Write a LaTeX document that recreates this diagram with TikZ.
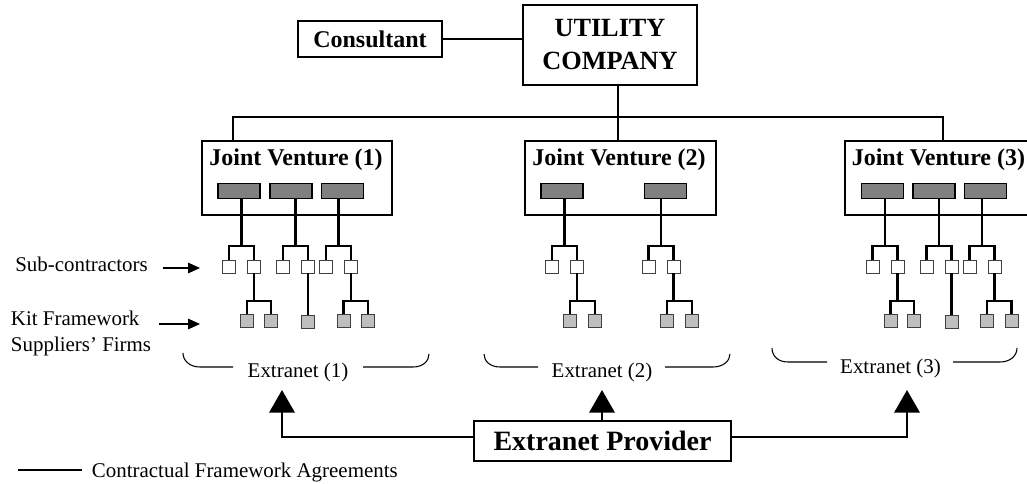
\documentclass[tikz,border=0pt]{standalone}
\usepackage{fontspec}
\setmainfont{Liberation Serif}
\usetikzlibrary{arrows.meta,positioning}

\begin{document}
\begin{tikzpicture}[x=0.75pt, y=-0.75pt,
	tie/.style={line width=2pt},
	feed/.style={line width=2pt, -{Triangle[length=17pt,width=19pt]}},
	pointer/.style={line width=0.8pt, -{Triangle[length=9pt,width=8pt]}},
	bracket/.style={line width=0.8pt}]
		\tikzset{boxed/.style={draw, line width=1.1pt, inner sep=0pt, align=center, font=\bfseries\fontsize{18}{22}\selectfont},
			jv/.style={draw, line width=2pt, minimum height=55.5pt},
			title/.style={inner sep=0pt, font=\bfseries\fontsize{18}{22}\selectfont},
			mgr/.style={draw, line width=1pt, fill=gray, inner sep=0pt, minimum width=31.5pt, minimum height=11.25pt},
			sub/.style={draw=black!75, line width=0.7pt, fill=white, inner sep=0pt, minimum size=9.75pt},
			kit/.style={sub, fill=black!25},
			lbl/.style={inner sep=0pt, font=\fontsize{15.7}{19.5}\selectfont}}
		\useasboundingbox (0,0) rectangle (1027,484);

		% top of the tree
		\node[boxed, minimum width=108pt, minimum height=27pt] (cons) at (370,39) {Consultant};
		\node[boxed, line width=1.4pt, minimum width=130.5pt, minimum height=60pt, font=\bfseries\fontsize{19.7}{24.75}\selectfont] (util) at (610,45) {UTILITY\\COMPANY};

		\node[jv, minimum width=142.5pt] (jv1) at (297,178) {};
		\node[jv, minimum width=143.25pt] (jv2) at (620.5,178) {};
		\node[jv, minimum width=146.25pt] (jv3) at (942.5,178) {};
		\node[title] (jv1t) at (296,160) {Joint Venture (1)};
		\node[title] (jv2t) at (619,160) {Joint Venture (2)};
		\node[title, anchor=west] (jv3t) at (851.5,160) {Joint Venture (3)};

		\coordinate (hub) at (618,117);
		\coordinate (busL) at (233,117);
		\coordinate (busR) at (943,117);
		\draw [tie] (cons.east) -- (cons.east -| util.west);
		\draw [tie] (util.south -| hub) -- (jv2.north -| hub);
		\draw [tie] (jv1.north -| busL) -- (busL) -- (busR) -- (jv3.north -| busR);

		% joint venture (1)
		\node[mgr] (m1a) at (239,191) {};
		\node[mgr] (m1b) at (291,191) {};
		\node[mgr] (m1c) at (342.5,191) {};
		\coordinate (b1a) at (241.5,246);
		\coordinate (b1b) at (295.5,246);
		\coordinate (b1c) at (338.5,246);
		\node[sub] (s1a1) at (229,266.5) {};
		\node[sub] (s1a2) at (254,266.5) {};
		\node[sub] (s1b1) at (283,266.5) {};
		\node[sub] (s1b2) at (308,266.5) {};
		\node[sub] (s1c1) at (326,266.5) {};
		\node[sub] (s1c2) at (351,266.5) {};
		\coordinate (c1a) at (254,301);
		\coordinate (c1c) at (351,301);
		\node[kit] (k1a1) at (247,321) {};
		\node[kit] (k1a2) at (271,321) {};
		\node[kit] (k1b1) at (308,322) {};
		\node[kit] (k1c1) at (343.5,321) {};
		\node[kit] (k1c2) at (368,321) {};

		\draw [tie] (m1a.south -| b1a) -- (b1a);
		\draw [tie] (m1b.south -| b1b) -- (b1b);
		\draw [tie] (m1c.south -| b1c) -- (b1c);
		\draw [tie] (s1a1) |- (b1a) -| (s1a2);
		\draw [tie] (s1b1) |- (b1b) -| (s1b2);
		\draw [tie] (s1c1) |- (b1c) -| (s1c2);
		\draw [tie] (s1a2) -- (c1a);
		\draw [tie] (k1a1) |- (c1a) -| (k1a2);
		\draw [tie] (s1b2) -- (k1b1);
		\draw [tie] (s1c2) -- (c1c);
		\draw [tie] (k1c1) |- (c1c) -| (k1c2);

		% joint venture (2)
		\node[mgr] (m2a) at (562,191) {};
		\node[mgr] (m2b) at (665.5,191) {};
		\coordinate (b2a) at (564.5,246);
		\coordinate (b2b) at (661,246);
		\node[sub] (s2a1) at (552,266.5) {};
		\node[sub] (s2a2) at (577,266.5) {};
		\node[sub] (s2b1) at (648.5,266.5) {};
		\node[sub] (s2b2) at (673.5,266.5) {};
		\coordinate (c2a) at (577,301);
		\coordinate (c2b) at (673.5,301);
		\node[kit] (k2a1) at (570,321) {};
		\node[kit] (k2a2) at (595,321) {};
		\node[kit] (k2b1) at (667,321) {};
		\node[kit] (k2b2) at (692,321) {};

		\draw [tie] (m2a.south -| b2a) -- (b2a);
		\draw [tie] (m2b.south -| b2b) -- (b2b);
		\draw [tie] (s2a1) |- (b2a) -| (s2a2);
		\draw [tie] (s2b1) |- (b2b) -| (s2b2);
		\draw [tie] (s2a2) -- (c2a);
		\draw [tie] (k2a1) |- (c2a) -| (k2a2);
		\draw [tie] (s2b2) -- (c2b);
		\draw [tie] (k2b1) |- (c2b) -| (k2b2);

		% joint venture (3)
		\node[mgr] (m3a) at (882.5,191) {};
		\node[mgr] (m3b) at (934,191) {};
		\node[mgr] (m3c) at (985.5,191) {};
		\coordinate (b3a) at (885,246);
		\coordinate (b3b) at (939,246);
		\coordinate (b3c) at (982,246);
		\node[sub] (s3a1) at (872.5,266.5) {};
		\node[sub] (s3a2) at (897.5,266.5) {};
		\node[sub] (s3b1) at (926.5,266.5) {};
		\node[sub] (s3b2) at (951.5,266.5) {};
		\node[sub] (s3c1) at (969.5,266.5) {};
		\node[sub] (s3c2) at (994.5,266.5) {};
		\coordinate (c3a) at (897.5,301);
		\coordinate (c3c) at (994.5,301);
		\node[kit] (k3a1) at (890.5,321) {};
		\node[kit] (k3a2) at (914,321) {};
		\node[kit] (k3b1) at (951.5,322) {};
		\node[kit] (k3c1) at (987,321) {};
		\node[kit] (k3c2) at (1011.5,321) {};

		\draw [tie] (m3a.south -| b3a) -- (b3a);
		\draw [tie] (m3b.south -| b3b) -- (b3b);
		\draw [tie] (m3c.south -| b3c) -- (b3c);
		\draw [tie] (s3a1) |- (b3a) -| (s3a2);
		\draw [tie] (s3b1) |- (b3b) -| (s3b2);
		\draw [tie] (s3c1) |- (b3c) -| (s3c2);
		\draw [tie] (s3a2) -- (c3a);
		\draw [tie] (k3a1) |- (c3a) -| (k3a2);
		\draw [tie] (s3b2) -- (k3b1);
		\draw [tie] (s3c2) -- (c3c);
		\draw [tie] (k3c1) |- (c3c) -| (k3c2);

		% labels on the left
		\node[lbl, anchor=base west] (lsub) at (15,271.5) {Sub-contractors};
		\node[lbl, anchor=north west, align=left] (lkit) at (10.7,310.5) {Kit Framework\\Suppliers' Firms};
		\coordinate (psub) at (200,268);
		\coordinate (pkit) at (200,324);
		\draw [pointer] ([xshift=11pt]psub -| lsub.east) -- (psub);
		\draw [pointer] ([xshift=6pt]pkit -| lkit.east) -- (pkit);

		% extranets
		\node[lbl] (ext1) at (298,372) {Extranet (1)};
		\node[lbl] (ext2) at (602,372) {Extranet (2)};
		\node[lbl] (ext3) at (890.5,368) {Extranet (3)};
		\draw [bracket] (183,353) .. controls (183,361) and (190,367) .. (200,367) -- (233,367)
			(363,367) -- (413,367) .. controls (423,367) and (429,361) .. (429,354);
		\draw [bracket] (484,354) .. controls (484,361) and (490,367) .. (500,367) -- (538,367)
			(665,367) -- (713,367) .. controls (723,367) and (730,361) .. (730,354);
		\draw [bracket] (772,348) .. controls (772,356) and (778,362) .. (788,362) -- (827,362)
			(953,362) -- (1000,362) .. controls (1010,362) and (1017,356) .. (1017,348);

		\node[boxed, font=\bfseries\fontsize{21}{25}\selectfont, minimum width=192.75pt, minimum height=30pt] (prov) at (602.5,441) {Extranet Provider};
		\coordinate (x1) at (282,390);
		\coordinate (x2) at (602,390);
		\coordinate (x3) at (907,390);
		\draw [feed] ([yshift=3pt]prov.west) -| (x1);
		\draw [feed] (prov.north -| x2) -- (x2);
		\draw [feed] ([yshift=3pt]prov.east) -| (x3);

		% legend
		\node[lbl, anchor=west] (leg) at (91.7,472) {Contractual Framework Agreements};
		\coordinate (legl) at (18,470);
		\draw [tie] (legl) -- ([xshift=-7.5pt]legl -| leg.west);
	\end{tikzpicture}
\end{document}
